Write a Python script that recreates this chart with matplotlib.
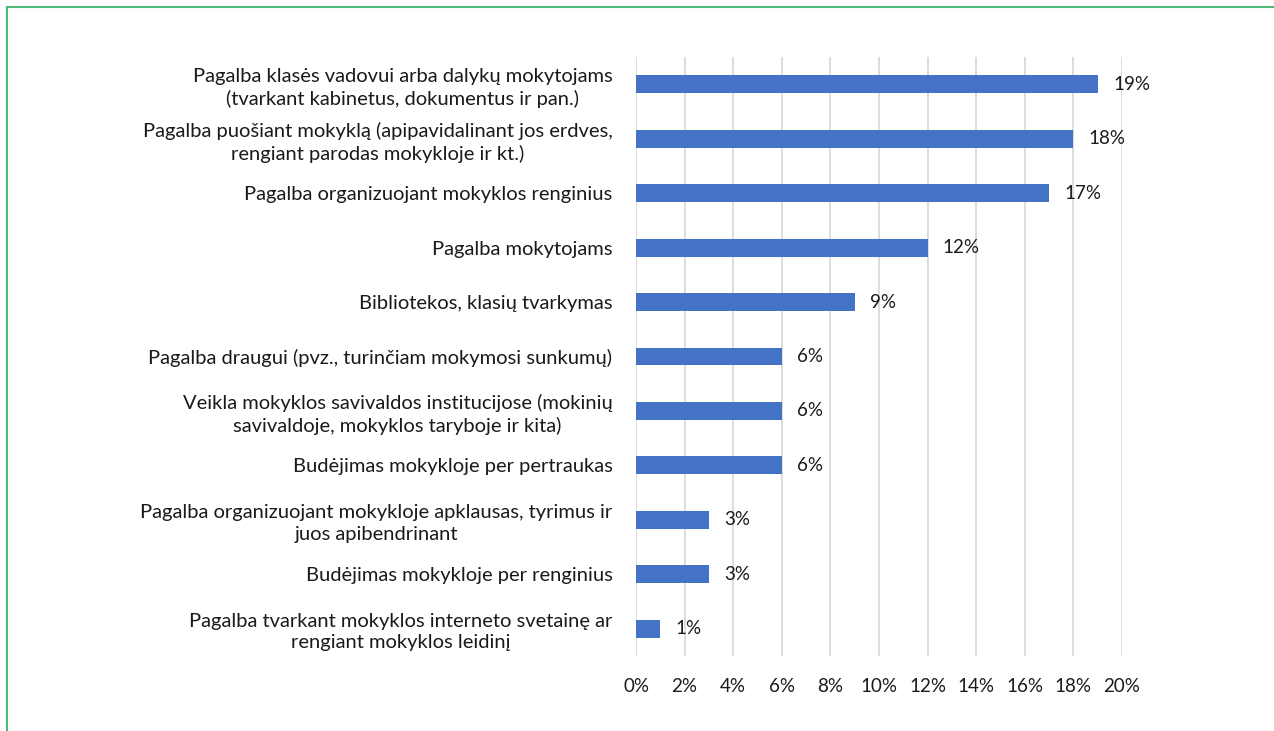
import matplotlib
matplotlib.use("Agg")
import matplotlib.pyplot as plt
from matplotlib.patches import Rectangle

categories = [
    "Pagalba klasės vadovui arba dalykų mokytojams\n(tvarkant kabinetus, dokumentus ir pan.)",
    "Pagalba puošiant mokyklą (apipavidalinant jos erdves,\nrengiant parodas mokykloje ir kt.)",
    "Pagalba organizuojant mokyklos renginius",
    "Pagalba mokytojams",
    "Bibliotekos, klasių tvarkymas",
    "Pagalba draugui (pvz., turinčiam mokymosi sunkumų)",
    "Veikla mokyklos savivaldos institucijose (mokinių\nsavivaldoje, mokyklos taryboje ir kita)",
    "Budėjimas mokykloje per pertraukas",
    "Pagalba organizuojant mokykloje apklausas, tyrimus ir\njuos apibendrinant",
    "Budėjimas mokykloje per renginius",
    "Pagalba tvarkant mokyklos interneto svetainę ar\nrengiant mokyklos leidinį",
]
values = [19, 18, 17, 12, 9, 6, 6, 6, 3, 3, 1]
xticks = list(range(0, 21, 2))
xticklabels = [f"{t}%" for t in xticks]

plt.rcParams['font.family'] = ['Lato', 'DejaVu Sans']

fig = plt.figure(figsize=(12.74, 7.31), dpi=100)
fig.patch.set_facecolor('white')
fig.add_artist(Rectangle((7/1274, -0.05), 1.2, 1 - 7/731 + 0.05, transform=fig.transFigure,
                         fill=False, edgecolor='#4db87a', linewidth=1.5))

ax = fig.add_axes([636/1274, 1 - 656/731, (1122 - 636)/1274, (656 - 57)/731])
n = len(categories)
ypos = list(range(n))
ax.barh(ypos, values, height=0.33, color='#4472C4', zorder=3)
ax.set_ylim(n - 0.5, -0.5)
ax.set_xlim(0, 20)
ax.set_xticks(xticks)
ax.set_xticklabels(xticklabels, fontsize=13.5, color='#1a1a1a')
ax.set_yticks(ypos)
ax.set_yticklabels(categories, fontsize=14.5, color='#1a1a1a')
for lbl in ax.get_yticklabels():
    lbl.set_multialignment('center')
    lbl.set_linespacing(1.3)
ax.tick_params(axis='y', length=0, pad=17)
ax.tick_params(axis='x', length=0, pad=16)
ax.grid(axis='x', color='#d9d9d9', linewidth=1.3, zorder=0)
for s in ax.spines.values():
    s.set_visible(False)
for y, v in zip(ypos, values):
    ax.annotate(f"{v}%", (v, y), xytext=(11, 0), textcoords='offset points',
                va='center', ha='left', fontsize=13.5, color='#1a1a1a')

fig.savefig("out.png", dpi=100)
